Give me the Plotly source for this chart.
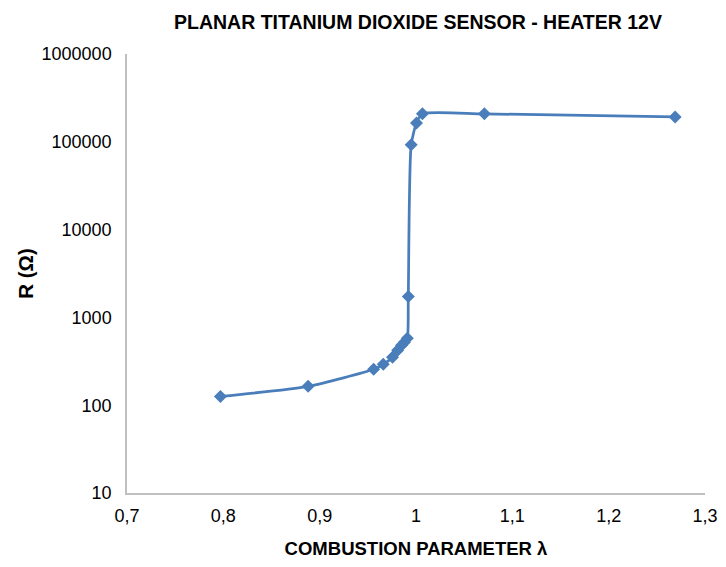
import plotly.graph_objects as go

lam = [0.797, 0.888, 0.956, 0.966, 0.9756, 0.981, 0.985, 0.988, 0.991,
       0.992, 0.995, 1.0005, 1.0067, 1.071, 1.269]
res = [126, 164, 257, 292, 351, 422, 481, 520, 577,
       1730, 92500, 164000, 208000, 208000, 192000]

x_ticks = [0.7, 0.8, 0.9, 1.0, 1.1, 1.2, 1.3]
x_labels = ["0,7", "0,8", "0,9", "1", "1,1", "1,2", "1,3"]
y_ticks = [10, 100, 1000, 10000, 100000, 1000000]
y_labels = ["10", "100", "1000", "10000", "100000", "1000000"]

blue = "#4a7ebb"
sans = "Liberation Sans, Arial, sans-serif"
tick_font = dict(family=sans, size=18, color="#000000")

fig = go.Figure()
fig.add_trace(go.Scatter(
    x=lam, y=res, mode="lines+markers",
    line=dict(color=blue, width=2.75, shape="spline", smoothing=0.6),
    marker=dict(symbol="diamond", size=10, color=blue),
    showlegend=False,
))

fig.update_layout(
    width=718, height=559,
    margin=dict(l=119, r=21, t=46, b=74, autoexpand=False),
    paper_bgcolor="white", plot_bgcolor="white",
    title=dict(text="<b>PLANAR TITANIUM DIOXIDE SENSOR - HEATER 12V</b>",
               x=0.571, xanchor="center", y=0.975, yanchor="middle",
               font=dict(family=sans, size=19.5, color="#000000")),
    xaxis=dict(range=[0.7, 1.3], tickvals=x_ticks, ticktext=x_labels,
               showgrid=False, zeroline=False, showline=True,
               linecolor="#bfbfbf", linewidth=1.5, ticks="",
               ticklabelstandoff=6, automargin=False,
               tickfont=tick_font,
               title=dict(text="<b>COMBUSTION PARAMETER λ</b>", standoff=17,
                          font=dict(family=sans, size=18.5, color="#000000"))),
    yaxis=dict(type="log", range=[1, 6], tickvals=y_ticks, ticktext=y_labels,
               showgrid=False, zeroline=False, showline=True,
               linecolor="#bfbfbf", linewidth=1.5, ticks="",
               ticklabelstandoff=10, automargin=False,
               tickfont=tick_font,
               title=dict(text="<b>R (Ω)</b>", standoff=2,
                          font=dict(family=sans, size=20.5, color="#000000"))),
)

fig.write_html("out.html")
